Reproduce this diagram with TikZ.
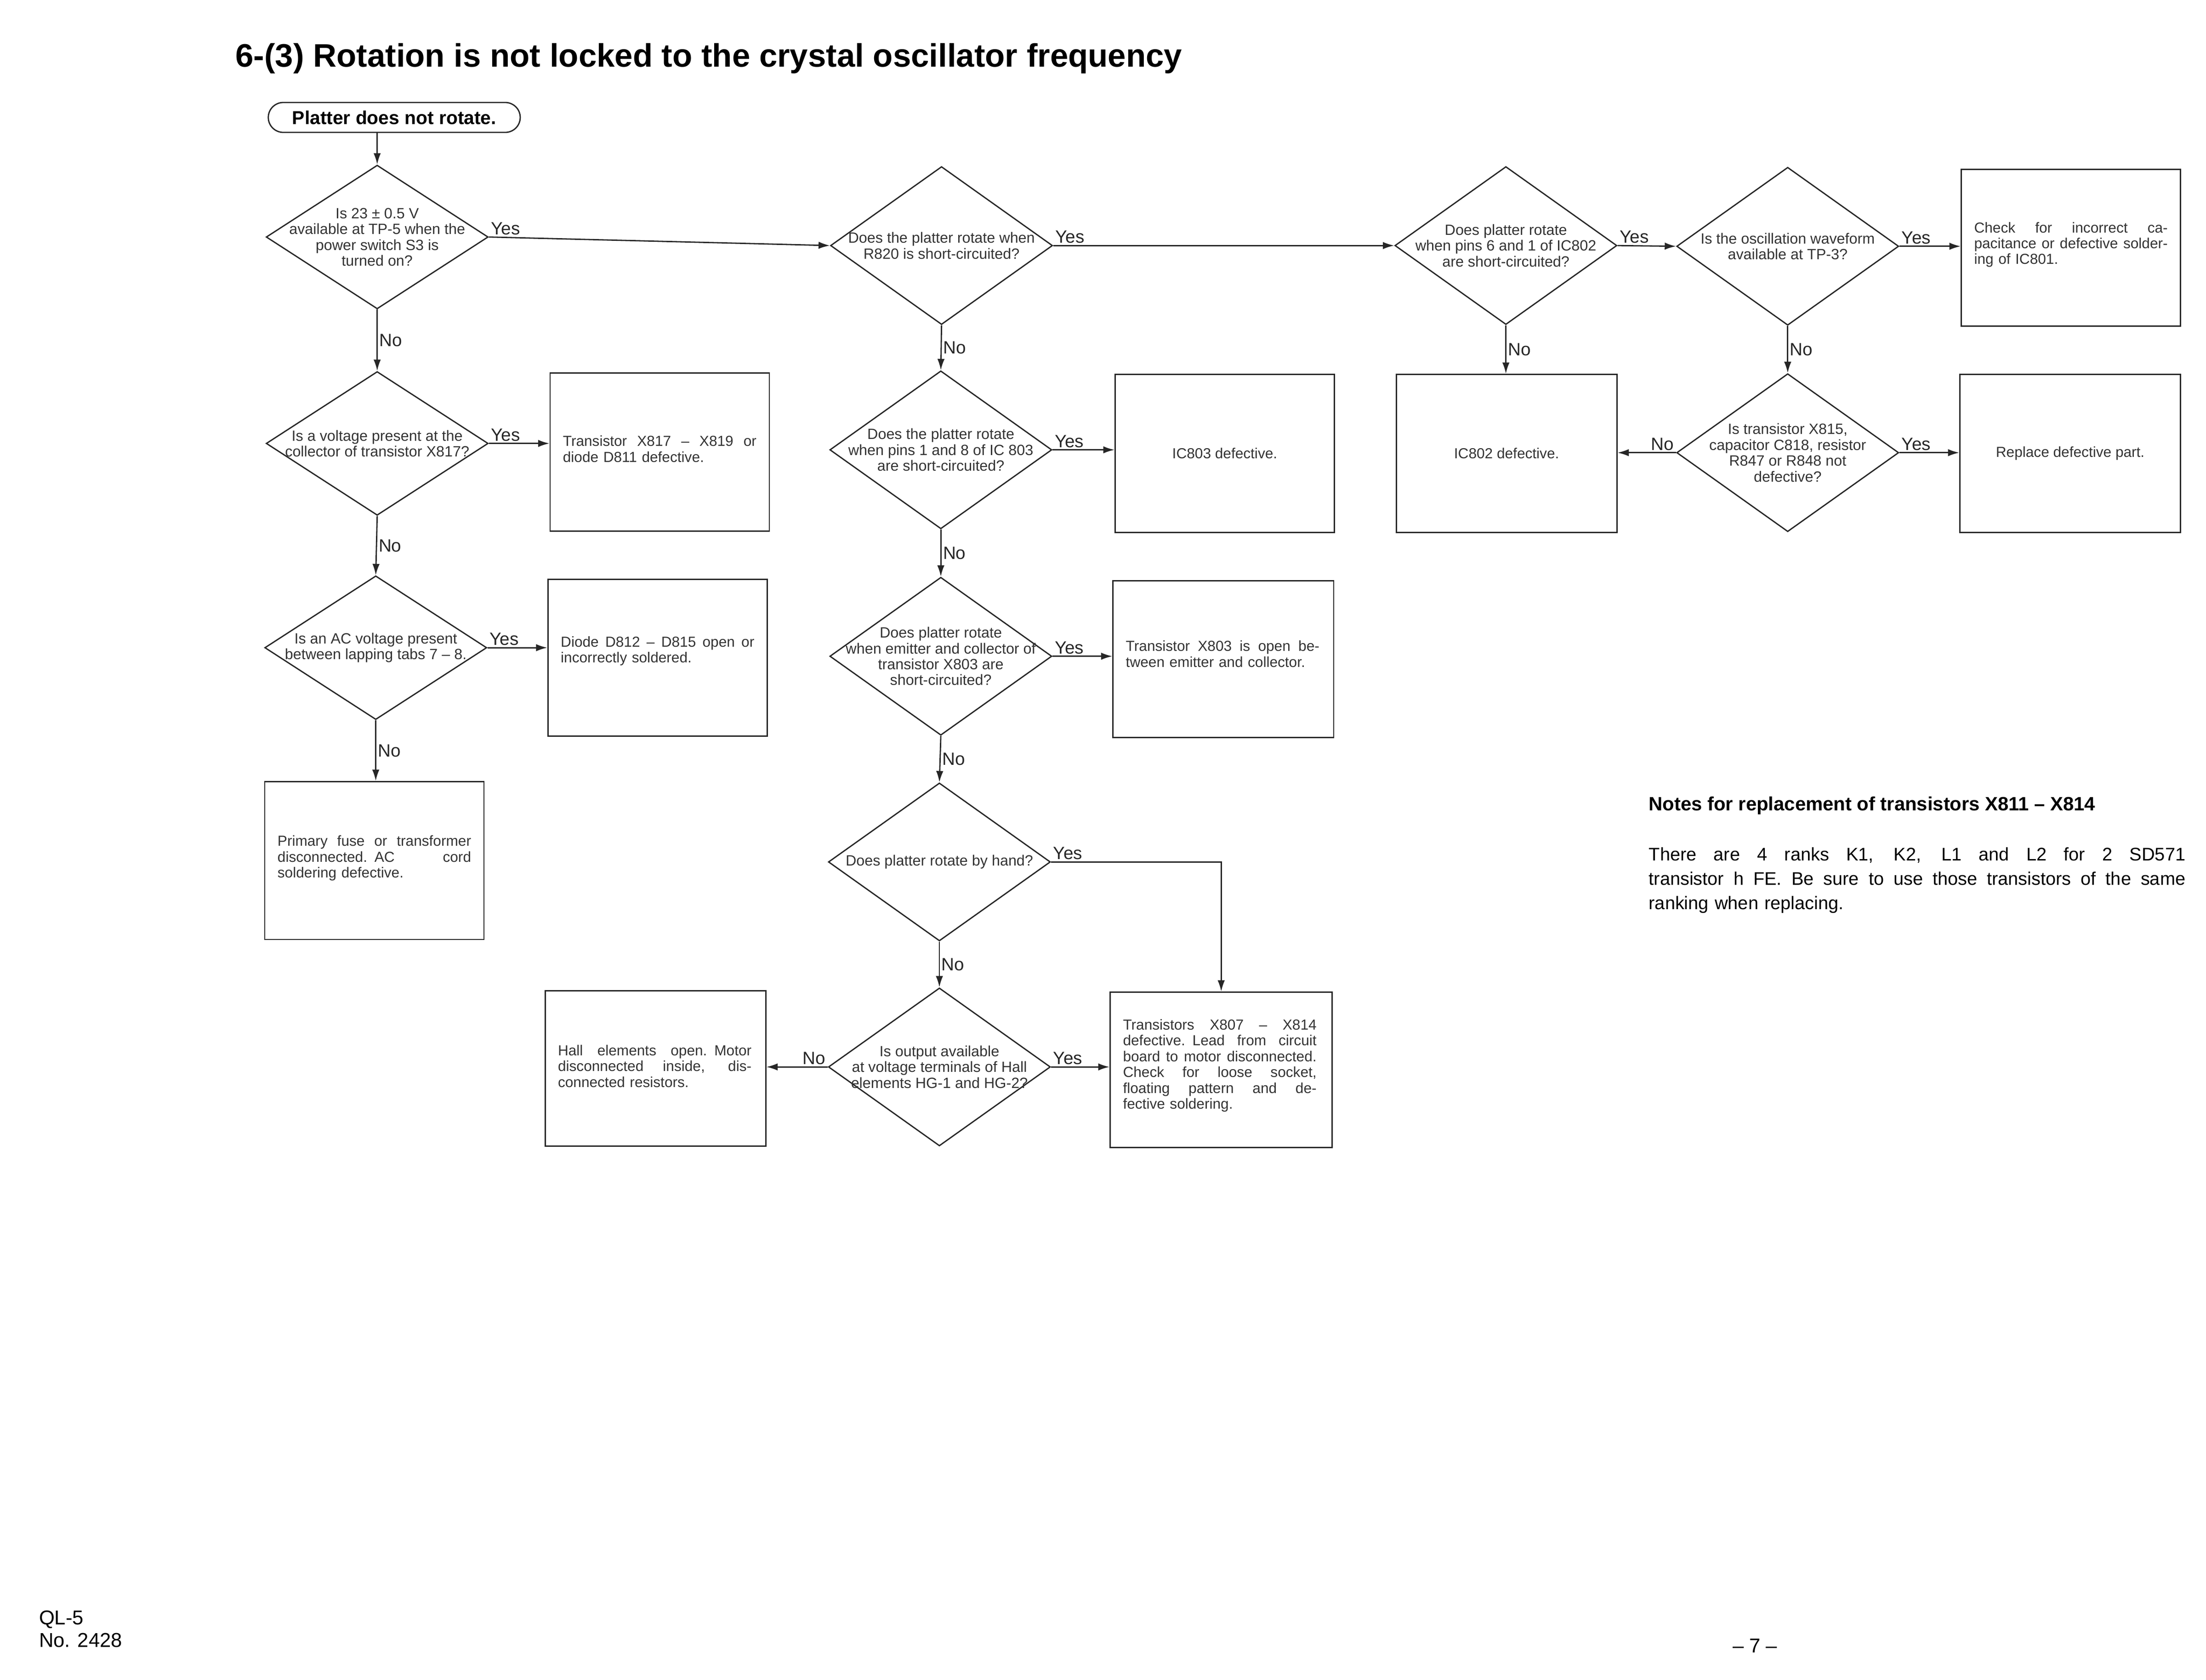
\documentclass[tikz,border=0pt]{standalone}
\usepackage{fontspec}
\setmainfont{Liberation Sans}
\usetikzlibrary{shapes.geometric,arrows.meta,calc}
\newlength\pu \setlength\pu{0.03097cm}
\newcommand\jl[2][136\pu]{\leavevmode\hbox to #1{\spaceskip=0.27em plus 1fil\relax #2}\\}
\begin{document}
\begin{tikzpicture}[x=0.03097cm,y=-0.03097cm,
  line width=0.8pt, draw=black!85,
  dia/.style={draw, diamond, inner sep=0pt, minimum width=156\pu, minimum height=111\pu},
  diaS/.style={dia, minimum height=101\pu},
  dt/.style={font=\fontsize{9.2}{9.8}\selectfont, align=center, inner sep=0pt, text=black!80},
  bx/.style={draw, rectangle, inner sep=0pt, minimum width=154\pu, minimum height=110\pu},
  bt/.style={font=\fontsize{9}{9.8}\selectfont, align=left, inner sep=0pt, text width=136\pu, anchor=north west, text=black!80},
  lab/.style={font=\fontsize{11}{13}\selectfont, inner sep=1pt, text=black!85},
  arr/.style={-{Latex[length=7pt,width=4.5pt]}}
]
\useasboundingbox (0,0) rectangle (1549.9,1179.9);
\node[anchor=west, inner sep=0pt, font=\bfseries] (title) at (165,41)
  {\resizebox{665\pu}{!}{6-(3) Rotation is not locked to the crystal oscillator frequency}};
\node[draw, rounded corners=10.5\pu, minimum width=177\pu, minimum height=21\pu, inner sep=0pt,
  font=\fontsize{11.6}{13}\selectfont\bfseries] (start) at (277,82.5) {Platter does not rotate.};

% column 1
\node[diaS] (d1) at (265,166.5) {};
\node[dt] at (d1) {Is 23 ± 0.5 V\\available at TP-5 when the\\power switch S3 is\\turned on?};
\node[diaS] (d2) at (265,311.5) {};
\node[dt] at (d2) {Is a voltage present at the\\collector of transistor X817?};
\node[diaS] (d3) at (264,455) {};
\node[dt] at (d3) {Is an AC voltage present\\between lapping tabs 7 -- 8.};
\node[bx, minimum height=111\pu] (b2) at (463.5,317.5) {};
\node[bt] at ($(b2.north west)+(9,44)$) {\jl{Transistor X817 -- X819 or}diode D811 defective.};
\node[bx] (b3) at (462,462) {};
\node[bt] at ($(b3.north west)+(9,40)$) {\jl{Diode D812 -- D815 open or}incorrectly soldered.};
\node[bx, minimum height=111\pu] (b4) at (263,604.5) {};
\node[bt] at ($(b4.north west)+(9,38)$) {\jl{Primary fuse or transformer}\jl{disconnected. AC cord}soldering defective.};

% column 2
\node[dia] (d4) at (661.5,172.5) {};
\node[dt] at (d4) {Does the platter rotate when\\R820 is short-circuited?};
\node[dia] (d5) at (661,316) {};
\node[dt] at (d5) {Does the platter rotate\\when pins 1 and 8 of IC 803\\are short-circuited?};
\node[dia] (d6) at (661,461) {};
\node[dt] at (d6) {Does platter rotate\\when emitter and collector of\\transistor X803 are\\short-circuited?};
\node[dia] (d7) at (660,605.5) {};
\node[dt] at (d7) {Does platter rotate by hand?};
\node[dia] (d8) at (660,749.5) {};
\node[dt] at (d8) {Is output available\\at voltage terminals of Hall\\elements HG-1 and HG-2?};
\node[bx, minimum height=111\pu, font=\fontsize{9}{9.8}\selectfont, text=black!80] (ic803) at (860.5,318.5) {IC803 defective.};
\node[bx, minimum width=155\pu] (x803) at (859.5,463) {};
\node[bt] at ($(x803.north west)+(9,42)$) {\jl{Transistor X803 is open be-}tween emitter and collector.};
\node[bx, minimum width=156\pu, minimum height=109\pu] (x807) at (858,751.5) {};
\node[bt] at ($(x807.north west)+(9,19)$) {\jl{Transistors X807 -- X814}\jl{defective. Lead from circuit}\jl{board to motor disconnected.}\jl{Check for loose socket,}\jl{floating pattern and de-}fective soldering.};
\node[bx, minimum width=155\pu, minimum height=109\pu] (hall) at (460.5,750.5) {};
\node[bt] at ($(hall.north west)+(9,38)$) {\jl{Hall elements open. Motor}\jl{disconnected inside, dis-}connected resistors.};

% column 3
\node[dia] (d9) at (1058,172.5) {};
\node[dt] at (d9) {Does platter rotate\\when pins 6 and 1 of IC802\\are short-circuited?};
\node[dia] (d10) at (1256,173) {};
\node[dt] at (d10) {Is the oscillation waveform\\available at TP-3?};
\node[dia] (d11) at (1256,318) {};
\node[dt] at (d11) {Is transistor X815,\\capacitor C818, resistor\\R847 or R848 not\\defective?};
\node[bx] (chk) at (1455,174) {};
\node[bt] at ($(chk.north west)+(9,37)$) {\jl{Check for incorrect ca-}\jl{pacitance or defective solder-}ing of IC801.};
\node[bx, minimum width=155\pu, minimum height=111\pu, font=\fontsize{9}{9.8}\selectfont, text=black!80] (ic802) at (1058.5,318.5) {IC802 defective.};
\node[bx, minimum width=155\pu, minimum height=111\pu, font=\fontsize{9}{9.8}\selectfont, text=black!80] (repl) at (1454.5,318.5) {Replace defective part.};

% connectors
\draw[arr] (start.south -| d1.north) -- (d1.north);
\draw[arr] (d1.east) -- node[lab, pos=0, anchor=south west]{Yes} (d4.west);
\draw[arr] (d1.south) -- node[lab, anchor=west]{No} (d2.north);
\draw[arr] (d2.east) -- node[lab, pos=0, anchor=south west]{Yes} (b2.west |- d2.east);
\draw[arr] (d2.south) -- node[lab, anchor=west]{No} (d3.north);
\draw[arr] (d3.east) -- node[lab, pos=0, anchor=south west]{Yes} (b3.west |- d3.east);
\draw[arr] (d3.south) -- node[lab, anchor=west]{No} (b4.north -| d3.south);

\draw[arr] (d4.east) -- node[lab, pos=0, anchor=south west]{Yes} (d9.west);
\draw[arr] (d4.south) -- node[lab, anchor=west]{No} (d5.north);
\draw[arr] (d5.east) -- node[lab, pos=0, anchor=south west]{Yes} (ic803.west |- d5.east);
\draw[arr] (d5.south) -- node[lab, anchor=west]{No} (d6.north);
\draw[arr] (d6.east) -- node[lab, pos=0, anchor=south west]{Yes} (x803.west |- d6.east);
\draw[arr] (d6.south) -- node[lab, anchor=west]{No} (d7.north);
\draw[arr] (d7.east) -- node[lab, pos=0, anchor=south west]{Yes} (d7.east -| x807.north) -- (x807.north);
\draw[arr] (d7.south) -- node[lab, anchor=west]{No} (d8.north);
\draw[arr] (d8.west) -- node[lab, pos=0, anchor=south east]{No} (hall.east |- d8.west);
\draw[arr] (d8.east) -- node[lab, pos=0, anchor=south west]{Yes} (x807.west |- d8.east);

\draw[arr] (d9.east) -- node[lab, pos=0, anchor=south west]{Yes} (d10.west);
\draw[arr] (d9.south) -- node[lab, anchor=west]{No} (ic802.north -| d9.south);
\draw[arr] (d10.east) -- node[lab, pos=0, anchor=south west]{Yes} (chk.west |- d10.east);
\draw[arr] (d10.south) -- node[lab, anchor=west]{No} (d11.north);
\draw[arr] (d11.west) -- node[lab, pos=0, anchor=south east]{No} (ic802.east |- d11.west);
\draw[arr] (d11.east) -- node[lab, pos=0, anchor=south west]{Yes} (repl.west |- d11.east);

% notes
\node[anchor=west, inner sep=0pt, font=\fontsize{11.9}{14}\selectfont\bfseries] (nh) at (1158,566)
  {Notes for replacement of transistors X811 -- X814};
\node[anchor=north west, inner sep=0pt, text width=377\pu, align=left,
  font=\fontsize{11.3}{15}\selectfont] (np) at (1158,595)
  {\jl[377\pu]{There are 4 ranks K1, K2, L1 and L2 for 2 SD571}\jl[377\pu]{transistor h FE. Be sure to use those transistors of the same}ranking when replacing.};

% footer
\node[anchor=north west, inner sep=0pt, align=left, font=\fontsize{12.4}{14}\selectfont] (ft) at (27,1131) {QL-5\\No. 2428};
\node[inner sep=0pt, font=\fontsize{12.4}{14}\selectfont] (pg) at (1233,1156) {-- 7 --};
\end{tikzpicture}
\end{document}
